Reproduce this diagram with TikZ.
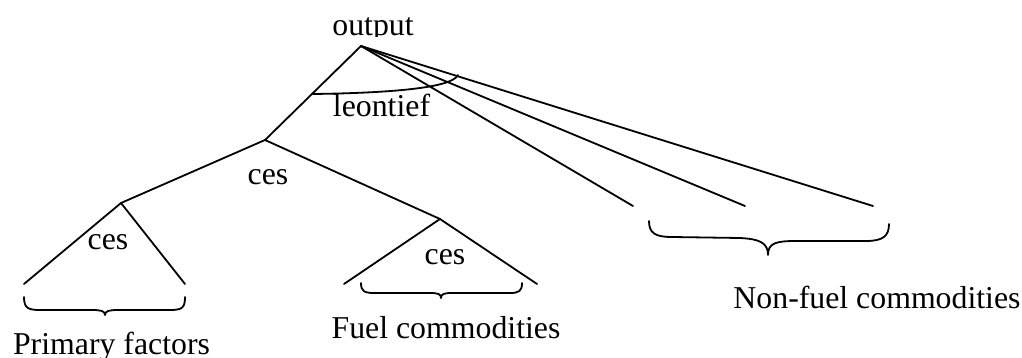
\documentclass[tikz,border=0pt]{standalone}
\usepackage{fontspec}
\setmainfont{Liberation Serif}
\begin{document}
\begin{tikzpicture}[x=1pt,y=-1pt,
  edge/.style={line width=1.8pt, line cap=round},
  lbl/.style={anchor=base, inner sep=0pt, font=\fontsize{31.8}{36}\selectfont},
  bracepath/.style={line width=1.8pt, line cap=round, line join=round}]
\useasboundingbox (0,0) rectangle (1022,358);
% junctions and leaf ends
\coordinate (apex) at (361,46);
\coordinate (c0) at (265,140);
\coordinate (c1) at (121,203);
\coordinate (c2) at (440,219);
\coordinate (p1) at (24,284);
\coordinate (p2) at (185,284);
\coordinate (f1) at (344,284);
\coordinate (f2) at (537,284);
\coordinate (n1) at (633,206);
\coordinate (n2) at (745,206);
\coordinate (n3) at (873,206);
\coordinate (arcA) at (313,94);
\coordinate (arcB) at (458,75);
% title (clipped at the bottom as in the reference)
\begin{scope}
  \clip (300,0) rectangle (450,37);
  \node[lbl] (out) at (373,36) {output};
\end{scope}
% connectors
\draw[edge] (apex) -- (c0);
\draw[edge] (apex) -- (n1);
\draw[edge] (apex) -- (n2);
\draw[edge] (apex) -- (n3);
\draw[edge] (c0) -- (c1);
\draw[edge] (c0) -- (c2);
\draw[edge] (c1) -- (p1);
\draw[edge] (c1) -- (p2);
\draw[edge] (c2) -- (f1);
\draw[edge] (c2) -- (f2);
% leontief arc
\draw[edge] (arcA) .. controls (390,93) and (452,88) .. (arcB);
% labels
\node[lbl] (leo) at (381.5,117) {leontief};
\node[lbl] (ces0) at (268,185) {ces};
\node[lbl] (ces1) at (108,249) {ces};
\node[lbl] (ces2) at (445,264) {ces};
\node[lbl] (prim) at (111.5,354) {Primary factors};
\node[lbl] (fuel) at (446,338) {Fuel commodities};
\node[lbl] (nonf) at (877,308) {Non-fuel commodities};
% braces
\draw[bracepath] (24,297) .. controls (24,308) and (28,310) .. (40,310)
  -- (92,310) .. controls (101,310) and (105,311) .. (105,315)
  .. controls (105,311) and (109,310) .. (118,310)
  -- (170,310) .. controls (182,310) and (185,308) .. (185,297);
\draw[bracepath] (361,283) .. controls (361,291) and (364,293) .. (374,293)
  -- (430,293) .. controls (438,293) and (441,294) .. (441,298)
  .. controls (441,294) and (444,293) .. (452,293)
  -- (510,293) .. controls (519,293) and (522,291) .. (522,283);
\draw[bracepath] (649,221) .. controls (649,233) and (655,237) .. (672,237)
  -- (740,238) .. controls (760,239) and (768,243) .. (768,255)
  .. controls (768,243) and (776,241) .. (796,241)
  -- (866,241) .. controls (883,241) and (889,236) .. (889,224);
\end{tikzpicture}
\end{document}
